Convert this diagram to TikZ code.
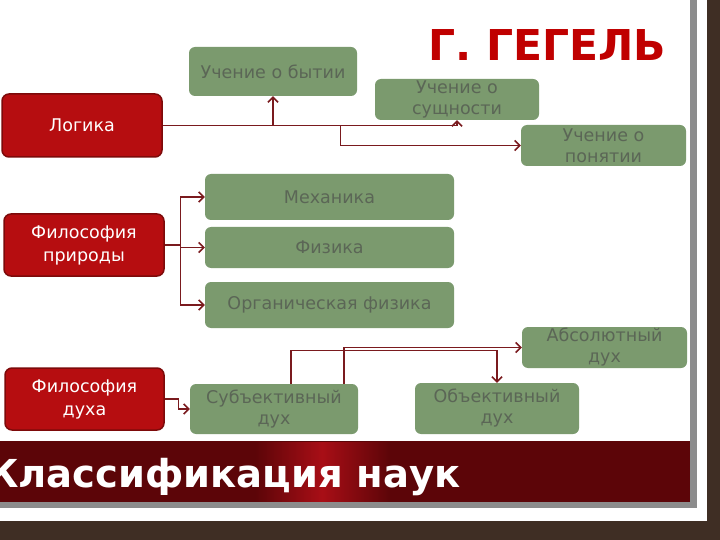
\documentclass[tikz,border=0pt]{standalone}
\usepackage{fontspec}
\setmainfont{DejaVu Sans}
\usetikzlibrary{arrows.meta}
\definecolor{bgbrown}{HTML}{3F2E24}
\definecolor{shadowgray}{HTML}{8C8C8C}
\definecolor{bannerdark}{HTML}{5C0508}
\definecolor{bannerglow}{HTML}{A80E16}
\definecolor{titlered}{HTML}{C00000}
\definecolor{boxred}{HTML}{B60D10}
\definecolor{boxredline}{HTML}{7D0A0A}
\definecolor{boxgreen}{HTML}{7B9A6E}
\definecolor{boxtext}{HTML}{5B6656}
\definecolor{linered}{HTML}{7A1A1E}
\begin{document}
\begin{tikzpicture}[x=1pt,y=-1pt,
  gbox/.style={fill=boxgreen, rounded corners=6pt, inner sep=0pt, text=boxtext,
    font=\fontsize{17.5}{21}\selectfont, align=center},
  rbox/.style={fill=boxred, draw=boxredline, line width=1.5pt, rounded corners=7pt,
    inner sep=0pt, text=white, font=\fontsize{17.5}{23}\selectfont, align=center},
  conn/.style={draw=linered, line width=1.3pt, -{Straight Barb[length=5pt,width=10pt,line width=1.6pt]}},
  plain/.style={draw=linered, line width=1.3pt}]
\useasboundingbox (0,0) rectangle (720,540);
% background
\fill[bgbrown] (0,0) rectangle (720,540);
\fill[white] (0,0) rectangle (707,521);
% banner
\fill[bannerdark] (0,441) rectangle (690,502);
\shade[left color=bannerdark, right color=bannerglow] (255,442) rectangle (322,501);
\shade[left color=bannerglow, right color=bannerdark] (322,442) rectangle (390,501);
\fill[shadowgray] (690,0) rectangle (697,508);
\fill[shadowgray] (0,502) rectangle (697,508);
\node[anchor=base west, inner sep=0pt, text=white, font=\fontsize{38.5}{40}\selectfont\bfseries] (banner) at (-13,487) {Классификация наук};
% title
\node[anchor=base west, inner sep=0pt, text=titlered, font=\fontsize{42.5}{44}\selectfont\bfseries] (title) at (428,61) {Г. ГЕГЕЛЬ};
% red boxes
\node[rbox, minimum width=160pt, minimum height=63pt] (logic) at (82,125.5) {Логика};
\node[rbox, minimum width=160pt, minimum height=62pt] (nat) at (84,245) {Философия\\природы};
\node[rbox, minimum width=159pt, minimum height=62pt] (spirit) at (84.5,399) {Философия\\духа};
% green boxes
\node[gbox, minimum width=168pt, minimum height=49pt] (byt) at (273,71.5) {Учение о бытии};
\node[gbox, minimum width=164pt, minimum height=41pt] (sush) at (457,99.5) {Учение о\\сущности};
\node[gbox, minimum width=165pt, minimum height=41pt] (pon) at (603.5,145.5) {Учение о\\понятии};
\node[gbox, minimum width=249pt, minimum height=46pt] (mech) at (329.5,197) {Механика};
\node[gbox, minimum width=249pt, minimum height=41pt] (fiz) at (329.5,247.5) {Физика};
\node[gbox, minimum width=249pt, minimum height=46pt] (org) at (329.5,305) {Органическая физика};
\node[gbox, minimum width=165pt, minimum height=41pt] (abs) at (604.5,347.5) {Абсолютный\\дух};
\node[gbox, minimum width=168pt, minimum height=50pt] (subj) at (274,409) {Субъективный\\дух};
\node[gbox, minimum width=164pt, minimum height=51pt] (obj) at (497,408.5) {Объективный\\дух};
% connectors: logic
\draw[conn] (logic.east) -| (sush.south);
\draw[conn] (byt.south |- logic.east) -- (byt.south);
\draw[conn] ([xshift=178pt]logic.east) |- (pon.west);
% nature
\draw[plain] (nat.east) -- ([xshift=16pt]nat.east);
\draw[conn] ([xshift=16pt]nat.east) |- (mech.west);
\draw[conn] ([xshift=16pt]nat.east) |- (fiz.west);
\draw[conn] ([xshift=16pt]nat.east) |- (org.west);
% spirit
\draw[conn] (spirit.east) -- ++(14,0) |- (subj.west);
\draw[conn] ([xshift=17pt]subj.north) -- ++(0,-33) -| (obj.north);
\draw[conn] ([xshift=70pt]subj.north) |- (abs.west);
\end{tikzpicture}
\end{document}
